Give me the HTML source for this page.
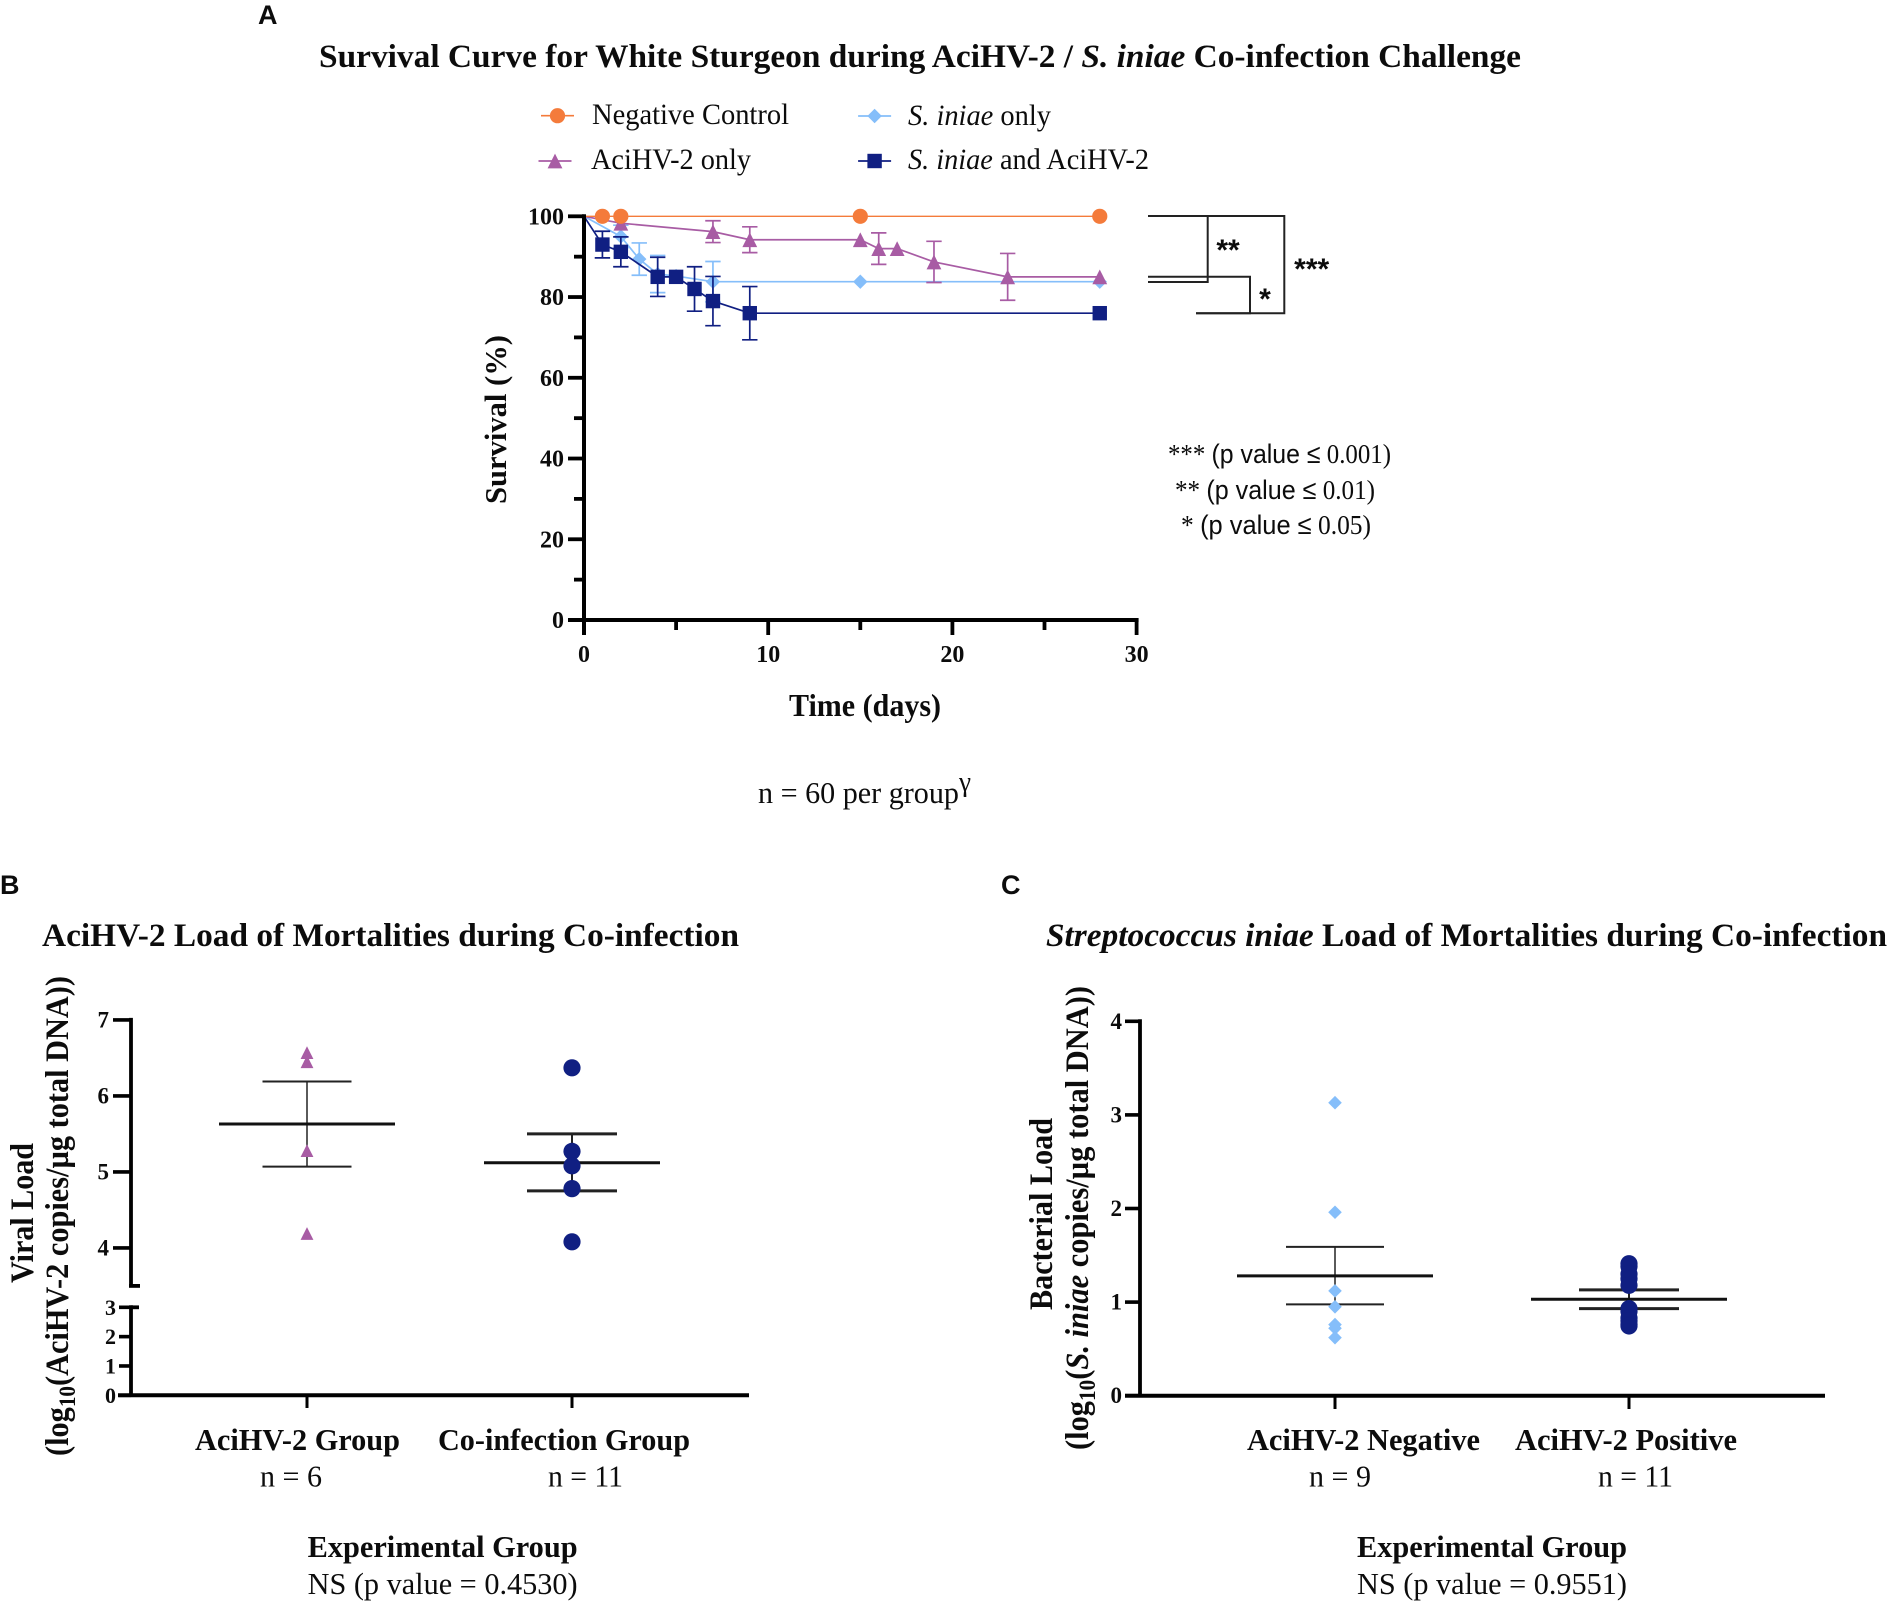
<!DOCTYPE html>
<html lang="en">
<head>
<meta charset="utf-8">
<title>Survival and pathogen load during AciHV-2 / S. iniae co-infection</title>
<style>
html,body{margin:0;padding:0;background:#fff;}
svg{display:block;}
text{font-family:"Liberation Serif",serif;fill:#0c0c0c;}
.b{font-weight:bold;}
.i{font-style:italic;}
.s{font-family:"Liberation Sans",sans-serif;}
</style>
</head>
<body>
<svg id="fig" xmlns="http://www.w3.org/2000/svg" width="1890" height="1603" viewBox="0 0 1890 1603">
<rect x="0" y="0" width="1890" height="1603" fill="#fff"/>

<text class="s b" x="258" y="24" font-size="27">A</text>
<text class="b" x="319" y="67" font-size="33" textLength="1202" lengthAdjust="spacingAndGlyphs">Survival Curve for White Sturgeon during AciHV-2 / <tspan class="i">S. iniae</tspan> Co-infection Challenge</text>

<g id="legend">
<text x="592" y="124" font-size="30" textLength="197" lengthAdjust="spacingAndGlyphs">Negative Control</text>
<text x="591" y="169" font-size="30" textLength="160" lengthAdjust="spacingAndGlyphs">AciHV-2 only</text>
<text x="908" y="125" font-size="30" textLength="143" lengthAdjust="spacingAndGlyphs"><tspan class="i">S. iniae</tspan> only</text>
<text x="908" y="169" font-size="30" textLength="241" lengthAdjust="spacingAndGlyphs"><tspan class="i">S. iniae</tspan> and AciHV-2</text>
</g>

<text class="b" transform="translate(506,419.5) rotate(-90)" text-anchor="middle" font-size="31" textLength="169" lengthAdjust="spacingAndGlyphs">Survival (%)</text>
<text class="b" x="789" y="716" font-size="32" textLength="152" lengthAdjust="spacingAndGlyphs">Time (days)</text>
<text x="758" y="803" font-size="31" textLength="213" lengthAdjust="spacingAndGlyphs">n = 60 per group<tspan font-size="28" dy="-12">γ</tspan></text>

<g fill="none" stroke="#222" stroke-width="2">
<path d="M1148 216H1284.3V313.3H1196"/>
<path d="M1148 216H1207.7V282H1148"/>
<path d="M1148 276.7H1250V313.3H1196"/>
</g>
<text class="s b" x="1228" y="260" text-anchor="middle" font-size="30">**</text>
<text class="s b" x="1265" y="309" text-anchor="middle" font-size="30">*</text>
<text class="s b" x="1311.7" y="279" text-anchor="middle" font-size="30">***</text>

<text x="1168" y="463" font-size="27" textLength="223" lengthAdjust="spacingAndGlyphs">*** <tspan class="s">(p value ≤</tspan> 0.001)</text>
<text x="1175" y="499" font-size="27" textLength="200" lengthAdjust="spacingAndGlyphs">** <tspan class="s">(p value ≤</tspan> 0.01)</text>
<text x="1181" y="534" font-size="27" textLength="190" lengthAdjust="spacingAndGlyphs">* <tspan class="s">(p value ≤</tspan> 0.05)</text>

<text class="s b" x="0" y="894" font-size="27">B</text>
<text class="b" x="42" y="946" font-size="33" textLength="697" lengthAdjust="spacingAndGlyphs">AciHV-2 Load of Mortalities during Co-infection</text>
<text class="b" transform="translate(33,1213) rotate(-90)" text-anchor="middle" font-size="33" textLength="140" lengthAdjust="spacingAndGlyphs">Viral Load</text>
<text class="b" transform="translate(68,1216) rotate(-90)" text-anchor="middle" font-size="33" textLength="480" lengthAdjust="spacingAndGlyphs">(log<tspan font-size="23" dy="7">10</tspan><tspan dy="-7">(AciHV-2 copies/µg total DNA))</tspan></text>
<text class="b" x="195" y="1450" font-size="31" textLength="205" lengthAdjust="spacingAndGlyphs">AciHV-2 Group</text>
<text class="b" x="438" y="1450" font-size="31" textLength="252" lengthAdjust="spacingAndGlyphs">Co-infection Group</text>
<text x="260" y="1486.7" font-size="31" textLength="62" lengthAdjust="spacingAndGlyphs">n = 6</text>
<text x="548" y="1486.7" font-size="31" textLength="75" lengthAdjust="spacingAndGlyphs">n = 11</text>
<text class="b" x="307.6" y="1557" font-size="31" textLength="270" lengthAdjust="spacingAndGlyphs">Experimental Group</text>
<text x="307.6" y="1594" font-size="31" textLength="270" lengthAdjust="spacingAndGlyphs">NS (p value = 0.4530)</text>

<text class="s b" x="1001" y="894" font-size="27">C</text>
<text class="b" x="1046" y="946" font-size="33" textLength="841" lengthAdjust="spacingAndGlyphs"><tspan class="i">Streptococcus iniae</tspan> Load of Mortalities during Co-infection</text>
<text class="b" transform="translate(1052,1214) rotate(-90)" text-anchor="middle" font-size="33" textLength="192" lengthAdjust="spacingAndGlyphs">Bacterial Load</text>
<text class="b" transform="translate(1088,1218) rotate(-90)" text-anchor="middle" font-size="33" textLength="464" lengthAdjust="spacingAndGlyphs">(log<tspan font-size="23" dy="7">10</tspan><tspan dy="-7">(</tspan><tspan class="i">S. iniae</tspan> copies/µg total DNA))</text>
<text class="b" x="1247" y="1450" font-size="31" textLength="233" lengthAdjust="spacingAndGlyphs">AciHV-2 Negative</text>
<text class="b" x="1515" y="1450" font-size="31" textLength="222" lengthAdjust="spacingAndGlyphs">AciHV-2 Positive</text>
<text x="1309" y="1486.7" font-size="31" textLength="62" lengthAdjust="spacingAndGlyphs">n = 9</text>
<text x="1598" y="1486.7" font-size="31" textLength="75" lengthAdjust="spacingAndGlyphs">n = 11</text>
<text class="b" x="1357" y="1557" font-size="31" textLength="270" lengthAdjust="spacingAndGlyphs">Experimental Group</text>
<text x="1357" y="1594" font-size="31" textLength="270" lengthAdjust="spacingAndGlyphs">NS (p value = 0.9551)</text>
</svg>

<script>
/* ---------- Panel A data ---------- */
const survivalTicksY = [0, 20, 40, 60, 80, 100];
const survivalMinorY = [10, 30, 50, 70, 90];
const survivalTicksX = [0, 10, 20, 30];
const survivalMinorX = [5, 15, 25];

const controlDays = [0, 1, 2, 15, 28];
const controlSurvival = [100, 100, 100, 100, 100];

const iniaeDays = [0, 2, 3, 4, 5, 7, 15, 28];
const iniaeSurvival = [100, 95, 89.4, 85.7, 85.2, 83.8, 83.8, 83.8];
const iniaeError = [0, 2.8, 4, 4.6, 0, 5, 0, 0];

const aciDays = [0, 2, 7, 9, 15, 16, 17, 19, 23, 28];
const aciSurvival = [100, 98.3, 96.2, 94.2, 94.2, 92, 92, 88.7, 85, 85];
const aciError = [0, 0, 2.7, 3.2, 0, 3.9, 0, 5.1, 5.8, 0];

const coDays = [0, 1, 2, 4, 5, 6, 7, 9, 28];
const coSurvival = [100, 93, 91.2, 85, 85, 82, 79, 76, 76];
const coError = [0, 3.3, 3.7, 4.85, 0, 5.5, 6.1, 6.6, 0];

/* ---------- Panel B data ---------- */
const viralUpperTicks = [4, 5, 6, 7];
const viralLowerTicks = [0, 1, 2, 3];
const viralAciValues = [6.57, 6.45, 5.28, 4.19];
const viralAciMean = 5.63;
const viralAciHigh = 6.19;
const viralAciLow = 5.07;
const viralCoValues = [6.37, 5.27, 5.08, 4.78, 4.08];
const viralCoMean = 5.12;
const viralCoHigh = 5.5;
const viralCoLow = 4.75;

/* ---------- Panel C data ---------- */
const bacterialTicks = [0, 1, 2, 3, 4];
const bacterialNegValues = [3.13, 1.96, 1.12, 0.95, 0.76, 0.72, 0.62];
const bacterialNegMean = 1.28;
const bacterialNegHigh = 1.59;
const bacterialNegLow = 0.976;
const bacterialPosValues = [1.41, 1.38, 1.30, 1.25, 1.18, 0.93, 0.90, 0.83, 0.80, 0.76, 0.745];
const bacterialPosMean = 1.03;
const bacterialPosHigh = 1.13;
const bacterialPosLow = 0.93;

/* ---------- Colours ---------- */
const ORANGE = '#F47B3B', PURPLE = '#A85CA4', SKY = '#85BEFA', NAVY = '#101F82';

/* ---------- Axis functions ---------- */
const xA = d => 584 + d * 18.42;
const yA = v => 620 - v * 4.037;
const yB = v => v >= 3.5 ? 1395.3 - 3 * 29.33 - 21.4 - (v - 3.5) * 76 : 1395.3 - v * 29.33;
const yC = v => 1395.7 - v * 93.6;
const bX = [307, 572];
const cX = [1335, 1629];

/* ---------- Drawing helpers ---------- */
const svg = document.getElementById('fig');
const NS = 'http://www.w3.org/2000/svg';
function mk(tag, attrs, parent) {
  const e = document.createElementNS(NS, tag);
  for (const k in attrs) e.setAttribute(k, attrs[k]);
  (parent || svg).appendChild(e);
  return e;
}
function line(x1, y1, x2, y2, stroke, w, parent) {
  return mk('line', {x1: x1, y1: y1, x2: x2, y2: y2, stroke: stroke, 'stroke-width': w}, parent);
}
function marker(kind, x, y, size, color, parent) {
  if (kind === 'circle') return mk('circle', {cx: x, cy: y, r: size, fill: color}, parent);
  if (kind === 'square') return mk('rect', {x: x - size, y: y - size, width: size * 2, height: size * 2, fill: color}, parent);
  if (kind === 'triangle') return mk('polygon', {points: x + ',' + (y - size) + ' ' + (x + size) + ',' + (y + size) + ' ' + (x - size) + ',' + (y + size), fill: color}, parent);
  return mk('polygon', {points: (x - size) + ',' + y + ' ' + x + ',' + (y - size) + ' ' + (x + size) + ',' + y + ' ' + x + ',' + (y + size), fill: color}, parent);
}
function label(str, x, y, size, anchor, parent) {
  const t = mk('text', {x: x, y: y, 'font-size': size, 'text-anchor': anchor, 'font-weight': 'bold'}, parent);
  t.textContent = str;
  return t;
}

/* ---------- Panel A ---------- */
const gA = mk('g', {});



function drawSurvival(name, color, kind, size, days, vals, errs, strokeW) {
  const g = mk('g', {}, gA);
  
  
  const pts = days.map((d, i) => xA(d) + ',' + yA(vals[i])).join(' ');
  const pl = mk('polyline', {points: pts, fill: 'none', stroke: color, 'stroke-width': strokeW}, g);
  
  
  days.forEach((d, i) => {
    const e = errs ? errs[i] : 0;
    if (e > 0) {
      const eb = mk('path', {
        d: 'M' + (xA(d) - 7.7) + ' ' + yA(vals[i] + e) + 'H' + (xA(d) + 7.7) +
           'M' + xA(d) + ' ' + yA(vals[i] + e) + 'V' + yA(vals[i] - e) +
           'M' + (xA(d) - 7.7) + ' ' + yA(vals[i] - e) + 'H' + (xA(d) + 7.7),
        fill: 'none', stroke: color, 'stroke-width': 1.7
      }, g);
      
      
    }
  });
  days.forEach((d, i) => {
    if (d === 0) return;
    const m = marker(kind, xA(d), yA(vals[i]), size, color, g);
    
    
  });
}
drawSurvival('iniae-only', SKY, 'diamond', 7.2, iniaeDays, iniaeSurvival, iniaeError, 1.7);
drawSurvival('iniae-and-acihv', NAVY, 'square', 7.2, coDays, coSurvival, coError, 1.7);
drawSurvival('acihv-only', PURPLE, 'triangle', 7.4, aciDays, aciSurvival, aciError, 1.7);
drawSurvival('negative-control', ORANGE, 'circle', 7.6, controlDays, controlSurvival, null, 1.4);

const axisA = mk('g', {}, gA);


const axisAY = line(xA(0), yA(100) - 2, xA(0), 635, '#000', 4, axisA);


const axisAX = line(568, yA(0), xA(30) + 2, yA(0), '#000', 4, axisA);


survivalTicksY.forEach(v => {
  const t = line(xA(0) - 16, yA(v), xA(0), yA(v), '#000', 3.8, axisA);
  
  
  const l = label(String(v), 564, yA(v) + 8, 24, 'end', axisA);
  
  
});
survivalMinorY.forEach(v => {
  const t = line(xA(0) - 10, yA(v), xA(0), yA(v), '#000', 3.8, axisA);
  
  
});
survivalTicksX.forEach(d => {
  const t = line(xA(d), yA(0), xA(d), 635, '#000', 3.8, axisA);
  
  
  const l = label(String(d), xA(d), 662, 24, 'middle', axisA);
  
  
});
survivalMinorX.forEach(d => {
  const t = line(xA(d), yA(0), xA(d), 630, '#000', 3.8, axisA);
  
  
});

/* ---------- Legend swatches ---------- */
const legend = document.getElementById('legend');
function swatch(name, x, y, color, kind, size) {
  const g = mk('g', {}, legend);
  
  
  line(x - 16.5, y, x + 16.5, y, color, 1.7, g);
  marker(kind, x, y, size, color, g);
}
swatch('legend-swatch-negative-control', 557.5, 115.7, ORANGE, 'circle', 7.6);
swatch('legend-swatch-acihv-only', 555, 161, PURPLE, 'triangle', 7.4);
swatch('legend-swatch-iniae-only', 874.6, 116, SKY, 'diamond', 7.2);
swatch('legend-swatch-iniae-and-acihv', 874.6, 161, NAVY, 'square', 7.2);

/* ---------- Shared scatter drawing ---------- */
function drawGroup(name, parent, x, yFn, kind, size, color, vals, mean, hi, lo, meanHalf, capHalf, capW, meanW, stemW) {
  const g = mk('g', {}, parent);
  
  
  const st = line(x, yFn(hi), x, yFn(lo), '#222', stemW, g);
  
  
  const c1 = line(x - capHalf, yFn(hi), x + capHalf, yFn(hi), '#222', capW, g);
  
  
  const c2 = line(x - capHalf, yFn(lo), x + capHalf, yFn(lo), '#222', capW, g);
  
  
  const mn = line(x - meanHalf, yFn(mean), x + meanHalf, yFn(mean), '#111', meanW, g);
  
  
  vals.forEach(v => {
    const m = marker(kind, x, yFn(v), size, color, g);
    
    
  });
}

/* ---------- Panel B ---------- */
const gB = mk('g', {});


drawGroup('viral-acihv-group', gB, bX[0], yB, 'triangle', 6.4, PURPLE, viralAciValues, viralAciMean, viralAciHigh, viralAciLow, 88, 44.5, 2, 3, 1.5);
drawGroup('viral-coinfection-group', gB, bX[1], yB, 'circle', 8.6, NAVY, viralCoValues, viralCoMean, viralCoHigh, viralCoLow, 88, 45, 3, 3, 2);

const bAxisTop = line(131, yB(7) - 2, 131, yB(3.5), '#000', 3.8, gB);


const bAxisBot = line(131, yB(3) - 2, 131, yB(0), '#000', 3.8, gB);


const bBreak = line(129, yB(3.5), 140, yB(3.5), '#000', 3.8, gB);


const bBreak2 = line(131, yB(3), 139, yB(3), '#000', 3.8, gB);


const bAxisX = line(118, yB(0), 749, yB(0), '#000', 4, gB);


viralUpperTicks.forEach(v => {
  const t = line(113, yB(v), 131, yB(v), '#000', 3.6, gB);
  
  
  const l = label(String(v), 109, yB(v) + 7.5, 23, 'end', gB);
  
  
});
viralLowerTicks.forEach(v => {
  const t = line(119, yB(v), 131, yB(v), '#000', 3.6, gB);
  
  
  const l = label(String(v), 116, yB(v) + 7.5, 22, 'end', gB);
  
  
});
bX.forEach(x => {
  const t = line(x, yB(0), x, 1408, '#000', 3, gB);
  
  
});

/* ---------- Panel C ---------- */
const gC = mk('g', {});


drawGroup('bacterial-negative-group', gC, cX[0], yC, 'diamond', 6.8, SKY, bacterialNegValues, bacterialNegMean, bacterialNegHigh, bacterialNegLow, 98, 49, 2, 3, 1.5);
drawGroup('bacterial-positive-group', gC, cX[1], yC, 'circle', 8.6, NAVY, bacterialPosValues, bacterialPosMean, bacterialPosHigh, bacterialPosLow, 98, 50, 3, 3, 2);

const cAxisY = line(1140, yC(4) - 2, 1140, yC(0), '#000', 3.8, gC);


const cAxisX = line(1125, yC(0), 1825, yC(0), '#000', 4, gC);


bacterialTicks.forEach(v => {
  const t = line(1125, yC(v), 1140, yC(v), '#000', 3.6, gC);
  
  
  const l = label(String(v), 1122, yC(v) + 7.5, 23, 'end', gC);
  
  
});
cX.forEach(x => {
  const t = line(x, yC(0), x, 1409, '#000', 3, gC);
  
  
});
</script>
</body>
</html>
